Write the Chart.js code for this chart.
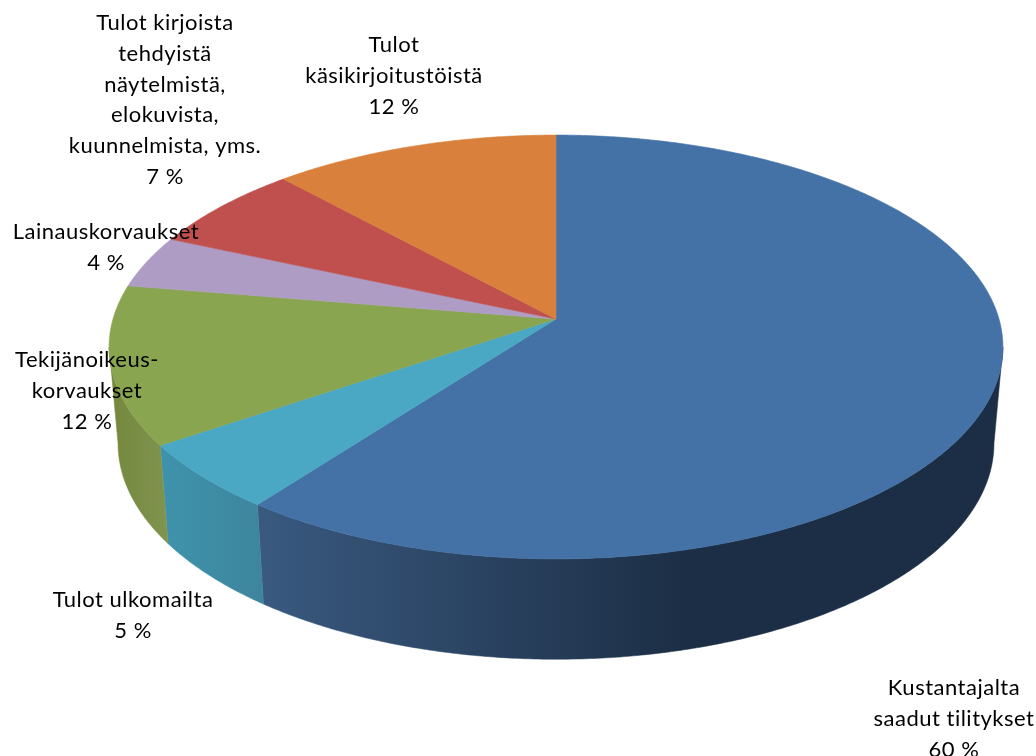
<!DOCTYPE html>
<html>
<head>
<meta charset="utf-8">
<style>html,body{margin:0;padding:0;background:#fff}canvas{display:block}</style>
<script src="https://cdn.jsdelivr.net/npm/chart.js@4"></script>
</head>
<body>
<canvas id="c" width="1036" height="756"></canvas>
<script>
// Data
const categories = ["Kustantajalta saadut tilitykset","Tulot ulkomailta","Tekijänoikeus-korvaukset","Lainauskorvaukset","Tulot kirjoista tehdyistä näytelmistä, elokuvista, kuunnelmista, yms.","Tulot käsikirjoitustöistä"];
const shares = [60.3,5.2,12.1,4.0,6.6,11.8];
const labelLines = [
  ["Kustantajalta","saadut tilitykset"],
  ["Tulot ulkomailta"],
  ["Tekijänoikeus-","korvaukset"],
  ["Lainauskorvaukset"],
  ["Tulot kirjoista","tehdyistä","näytelmistä,","elokuvista,","kuunnelmista, yms."],
  ["Tulot","käsikirjoitustöistä"]
];
// Styles / layout
const topColors = ["#4572A6","#4AA8C4","#8AA550","#AE9CC4","#BF504E","#D9813C"];
const wallFrom  = ["#39597F","#3F92AB","#76893F","#8C7DA0","#994040","#AE6730"];
const wallTo    = ["#1C2E45","#3D859D","#7F9450","#8C7DA0","#994040","#AE6730"];
const labelAnchors = [[954,688],[133,600],[87,360],[106,232],[165,23],[394,45]];
const lineGap = 30.8;
const persp = 0.132, yScaleTop = 0.47;       // top face projection
const baseX = 0.98, baseY = 0.4786, baseDrop = 96; // bottom rim projection

function rim(el, theta, base){
  const U = Math.cos(theta), V = Math.sin(theta), w = 1 - persp*V, R = el.outerRadius;
  if(base) return [el.x + baseX*R*U/w, el.y + baseDrop + baseY*R*V/w];
  return [el.x + R*U/w, el.y + yScaleTop*R*V/w];
}
const STEP = Math.PI/360;
function trace(ctx, el, a, b, base, first){
  const n = Math.max(1, Math.ceil(Math.abs(b-a)/STEP));
  for(let i=0;i<=n;i++){
    const p = rim(el, a+(b-a)*i/n, base);
    if(i===0 && first) ctx.moveTo(p[0],p[1]); else ctx.lineTo(p[0],p[1]);
  }
}
const pie3d = {
  id:"pie3d",
  beforeDatasetDraw(chart, args){
    const ctx = chart.ctx, arcs = args.meta.data;
    const edge = Math.asin(persp); // silhouette of the disc
    arcs.forEach((el,i)=>{
      const a = Math.max(el.startAngle,edge), b = Math.min(el.endAngle,Math.PI-edge);
      if(b<=a) return;
      const xa = rim(el,a,true)[0], xb = rim(el,b,true)[0];
      const g = ctx.createLinearGradient(xb,0,xa,0);
      g.addColorStop(0, wallFrom[i]);
      g.addColorStop(i===0?0.58:1, wallTo[i]);
      g.addColorStop(1, wallTo[i]);
      ctx.fillStyle = g;
      ctx.strokeStyle = g;
      ctx.lineWidth = 0.5;
      ctx.beginPath();
      trace(ctx,el,a,b,false,true);
      trace(ctx,el,b,a,true,false);
      ctx.closePath();
      ctx.fill();
      ctx.stroke();
    });
    arcs.forEach((el)=>{
      ctx.beginPath();
      ctx.moveTo(el.x,el.y);
      trace(ctx,el,el.startAngle,el.endAngle,false,false);
      ctx.closePath();
      ctx.fillStyle = el.options.backgroundColor;
      ctx.strokeStyle = el.options.backgroundColor;
      ctx.lineWidth = 0.6;
      ctx.fill();
      ctx.stroke();
    });
    return false;
  },
  afterDraw(chart){
    const ctx = chart.ctx;
    ctx.save();
    ctx.font = '22px Lato, "Open Sans", sans-serif';
    ctx.letterSpacing = "0.5px";
    ctx.fillStyle = "#000";
    ctx.textAlign = "center";
    ctx.textBaseline = "middle";
    labelLines.forEach((lines,i)=>{
      const [x,y] = labelAnchors[i];
      lines.concat([Math.round(shares[i])+" %"]).forEach((t,j)=>ctx.fillText(t,x,y+j*lineGap));
    });
    ctx.restore();
  }
};
new Chart(document.getElementById("c"),{
  type:"pie",
  data:{labels:categories,datasets:[{data:shares,backgroundColor:topColors,borderWidth:0,radius:443,clip:false}]},
  options:{
    responsive:false,animation:false,
    rotation:0,
    layout:{padding:{left:76,bottom:118,top:0,right:0}},
    plugins:{legend:{display:false},tooltip:{enabled:false}}
  },
  plugins:[pie3d]
});
</script>
</body>
</html>
